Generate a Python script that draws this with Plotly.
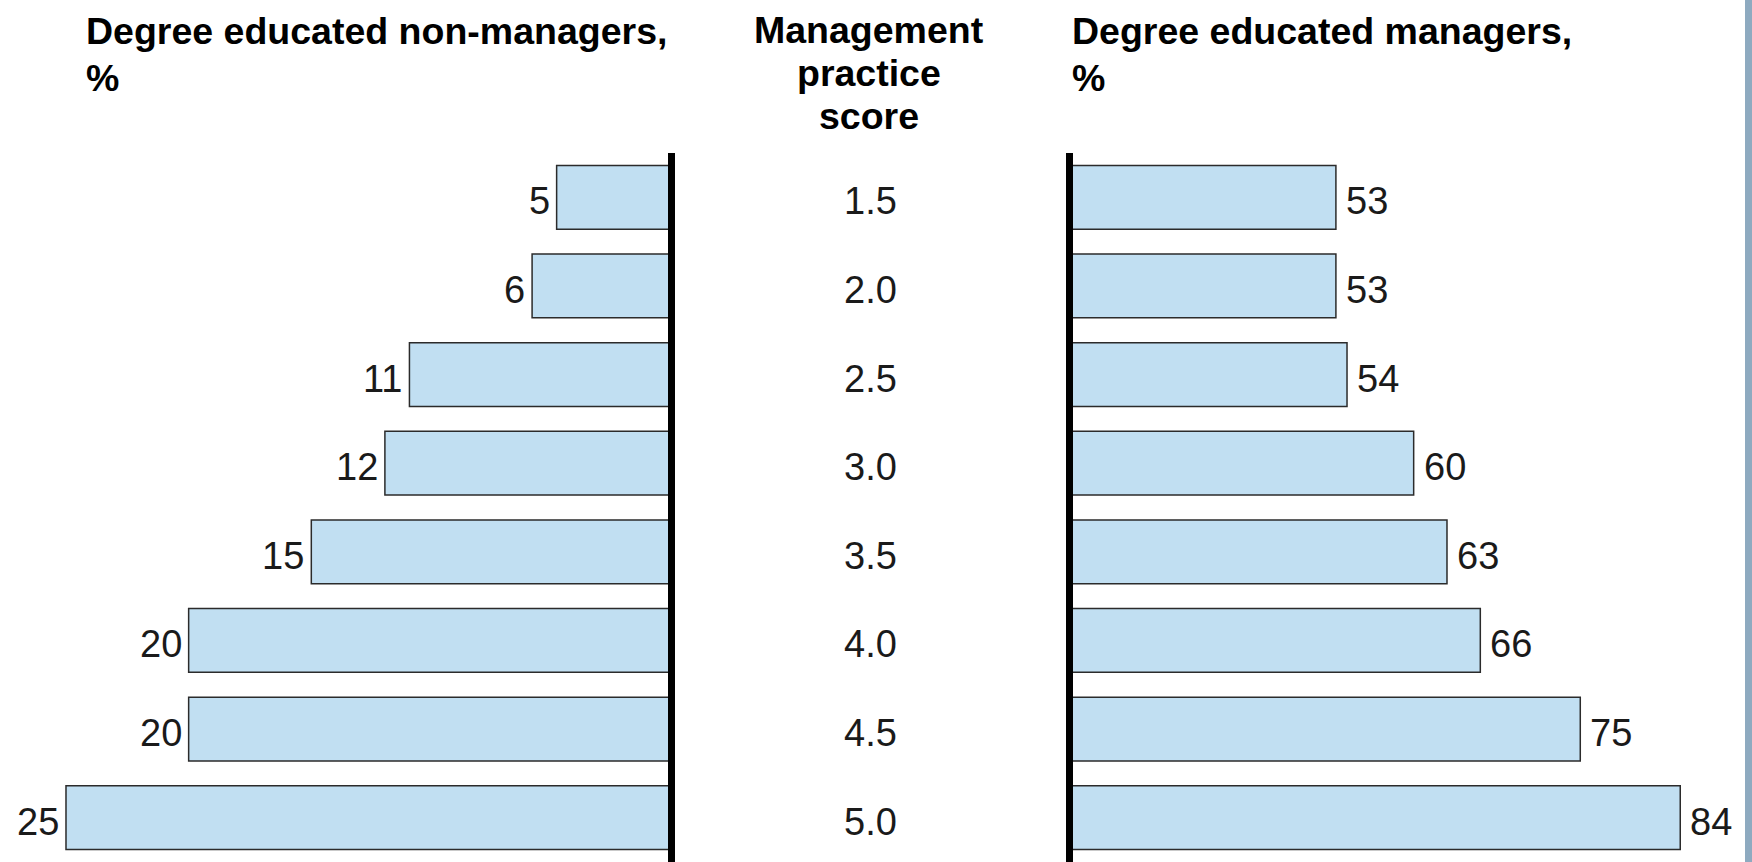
import plotly.graph_objects as go

# management practice score bands, top to bottom
scores = ["1.5", "2.0", "2.5", "3.0", "3.5", "4.0", "4.5", "5.0"]
# share of degree educated staff, %
non_managers = [5, 6, 11, 12, 15, 20, 20, 25]
managers = [53, 53, 54, 60, 63, 66, 75, 84]

left_title = ["Degree educated non-managers,", "%"]
mid_title = ["Management", "practice", "score"]
right_title = ["Degree educated managers,", "%"]

W, H = 1752, 862
FONT = "Liberation Sans, Arial, sans-serif"
FS_TITLE = 37.5
FS_NUM = 38
BAR_FILL = "#c1dff2"
BAR_LINE = "#2b2b2b"
NUM_COLOR = "#1a1a1a"

def px_x(p):
    return p / W

def px_y(p):
    return 1 - p / H

y_dom = [0, px_y(153)]

fig = go.Figure()

fig.add_trace(go.Bar(
    y=scores, x=non_managers, orientation="h", xaxis="x", yaxis="y",
    width=0.72, marker_color=BAR_FILL, marker_line_color=BAR_LINE, marker_line_width=1.5,
    hoverinfo="skip",
))

fig.add_trace(go.Bar(
    y=scores, x=managers, orientation="h", xaxis="x3", yaxis="y3",
    width=0.72, marker_color=BAR_FILL, marker_line_color=BAR_LINE, marker_line_width=1.5,
    hoverinfo="skip",
))

hidden = dict(visible=False, showgrid=False, zeroline=False)
cat_y = dict(type="category", categoryorder="array", categoryarray=scores,
             range=[7.5, -0.5], domain=y_dom, showgrid=False, zeroline=False,
             ticks="", showticklabels=False)
axis_line = dict(showline=True, linecolor="black", linewidth=7)

fig.update_layout(
    width=W, height=H,
    margin=dict(l=0, r=0, t=0, b=0),
    paper_bgcolor="white", plot_bgcolor="white",
    showlegend=False,
    font=dict(family=FONT, size=FS_NUM, color="black"),
    xaxis=dict(domain=[0, px_x(668)], range=[27.69, 0.46], anchor="y", **hidden),
    yaxis=dict(anchor="x", side="right", **cat_y, **axis_line),
    xaxis2=dict(domain=[px_x(668), px_x(1073)], range=[0, 1], anchor="y2", **hidden),
    yaxis2=dict(anchor="x2", **cat_y),
    xaxis3=dict(domain=[px_x(1073), 1], range=[29.33, 90.46], anchor="y3", **hidden),
    yaxis3=dict(anchor="x3", side="left", **cat_y, **axis_line),
)

num_font = dict(family=FONT, size=FS_NUM, color=NUM_COLOR)

# value labels at the bar ends, and the score column in the middle
# (category axes: annotations take the category index)
for i, v in enumerate(non_managers):
    fig.add_annotation(x=v, y=i, xref="x", yref="y", text=str(v), showarrow=False,
                       xanchor="right", yanchor="middle", xshift=-6, yshift=-4,
                       borderpad=0, font=num_font)
for i, v in enumerate(managers):
    fig.add_annotation(x=v, y=i, xref="x3", yref="y3", text=str(v), showarrow=False,
                       xanchor="left", yanchor="middle", xshift=9, yshift=-4,
                       borderpad=0, font=num_font)
for i, s in enumerate(scores):
    fig.add_annotation(x=0.5, y=i, xref="x2", yref="y2", text=s, showarrow=False,
                       xanchor="center", yanchor="middle", yshift=-4,
                       borderpad=0, font=num_font)

# header lines, placed by baseline
def header(lines, x, anchor, baselines):
    for txt, b in zip(lines, baselines):
        fig.add_annotation(
            text=f"<b>{txt}</b>", xref="paper", yref="paper",
            x=px_x(x), y=px_y(b - 0.905 * FS_TITLE), xanchor=anchor, yanchor="top",
            showarrow=False, borderpad=0, font=dict(family=FONT, size=FS_TITLE, color="black"),
        )

header(left_title, 85, "left", [43, 90])
header(mid_title, 869, "center", [42, 85, 128])
header(right_title, 1071, "left", [43, 90])

# grey frame strip on the right edge
fig.add_shape(type="rect", xref="paper", yref="paper", x0=px_x(1745), x1=1, y0=0, y1=1,
              fillcolor="#8eaac0", line_width=0)

fig.write_html("out.html", config={"displayModeBar": False},
               post_script="document.body.style.margin='0';")
